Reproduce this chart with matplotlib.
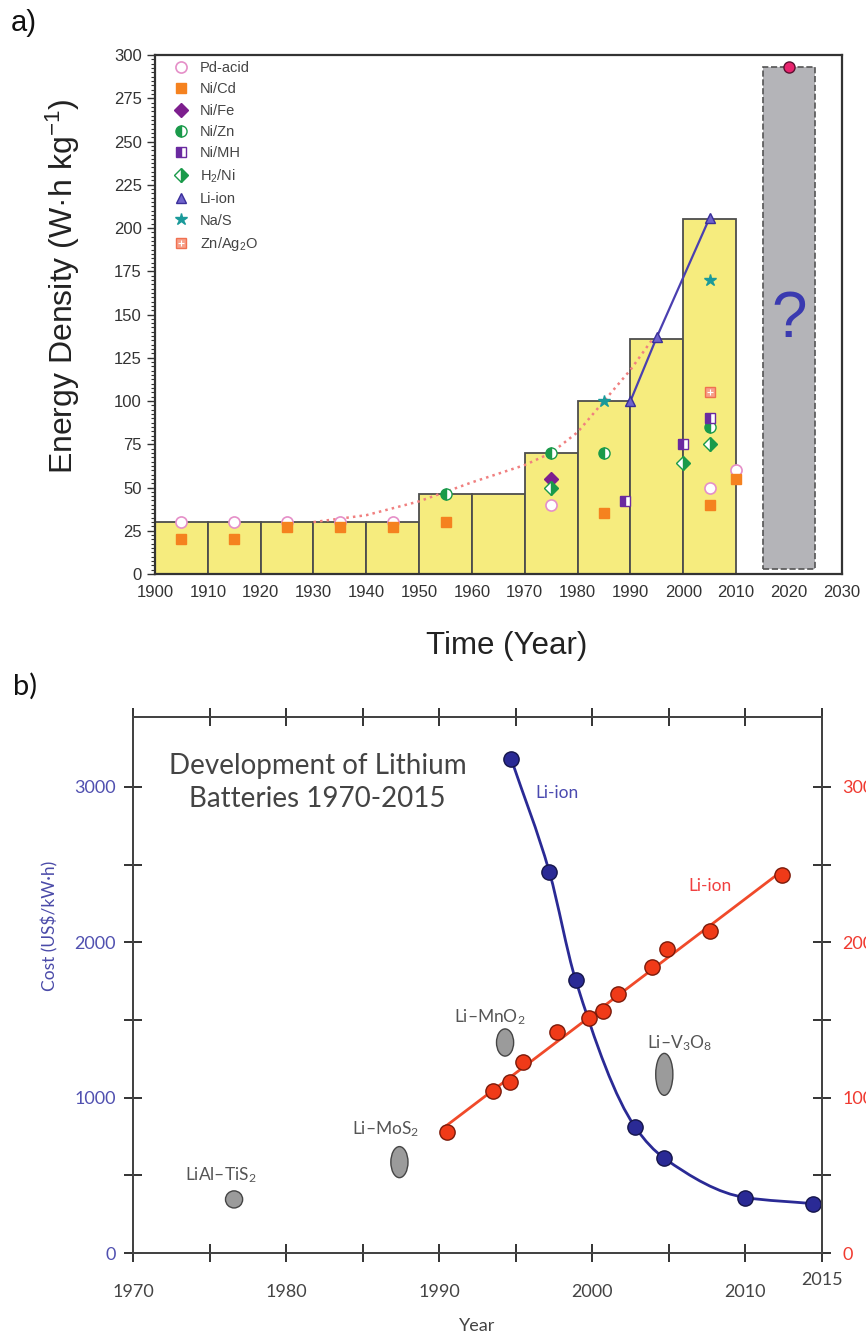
import numpy as np
import matplotlib
matplotlib.use("Agg")
import matplotlib.pyplot as plt
from matplotlib.lines import Line2D
from matplotlib.patches import Ellipse, PathPatch
from matplotlib.path import Path
from matplotlib.ticker import MultipleLocator
import matplotlib.transforms as mtransforms

plt.rcParams['font.family'] = ['Liberation Sans', 'DejaVu Sans']
plt.rcParams['mathtext.fontset'] = 'custom'
plt.rcParams['mathtext.rm'] = 'Liberation Sans'
plt.rcParams['mathtext.it'] = 'Liberation Sans:italic'

# ---------------- panel a data: energy density by decade ----------------
decade_start = [1900, 1910, 1920, 1930, 1940, 1950, 1960, 1970, 1980, 1990, 2000]
decade_best = [30, 30, 30, 30, 30, 46, 46, 70, 100, 136, 205]
future_year = 2015
future_low = 3
future_target = 293

trend_year = [1930, 1940, 1950, 1960, 1970, 1975, 1980, 1985, 1990, 1994]
trend_val = [30, 34, 42, 53, 63, 70, 82, 100, 118, 135]

pd_year = [1905, 1915, 1925, 1935, 1945, 1975, 2005, 2010]
pd_val = [30, 30, 30, 30, 30, 40, 50, 60]
nicd_year = [1905, 1915, 1925, 1935, 1945, 1955, 1985, 2005, 2010]
nicd_val = [20, 20, 27, 27, 27, 30, 35, 40, 55]
nife_year = [1975]
nife_val = [55]
nizn_year = [1955, 1975, 1985, 2005]
nizn_val = [46, 70, 70, 85]
nimh_year = [1989, 2000, 2005]
nimh_val = [42, 75, 90]
h2ni_year = [1975, 2000, 2005]
h2ni_val = [50, 64, 75]
liion_year = [1990, 1995, 2005]
liion_val = [100, 137, 206]
nas_year = [1985, 2005]
nas_val = [100, 170]
znag_year = [2005]
znag_val = [105]

# ---------------- panel b data: lithium batteries 1970-2015 ----------------
cost_year = [1994.7, 1997.2, 1998.9, 2002.8, 2004.7, 2010.0, 2014.4]
cost_val = [3180, 2450, 1760, 810, 610, 357, 318]
dens_year = [1990.5, 1993.5, 1994.6, 1995.5, 1997.7, 1999.8, 2000.7, 2001.7,
             2003.9, 2004.9, 2007.7, 2012.4]
dens_val = [78, 104, 110, 123, 142, 151, 156, 167, 184, 196, 207, 243]
early_names = ['LiAl\u2013TiS$\\mathregular{_2}$', 'Li\u2013MoS$\\mathregular{_2}$',
               'Li\u2013MnO$\\mathregular{_2}$', 'Li\u2013V$\\mathregular{_3}$O$\\mathregular{_8}$']
early_year = [1976.6, 1987.4, 1994.3, 2004.7]
early_cost = [345, 585, 1355, 1150]
early_spread = [110, 200, 175, 270]


def pchip_path(xs, ys):
    """Shape-preserving cubic through the points, as a Bezier path."""
    x = np.asarray(xs, float)
    y = np.asarray(ys, float)
    h = np.diff(x)
    d = np.diff(y) / h
    m = np.zeros_like(y)
    for k in range(1, len(x) - 1):
        if d[k - 1] * d[k] > 0:
            w1 = 2 * h[k] + h[k - 1]
            w2 = h[k] + 2 * h[k - 1]
            m[k] = (w1 + w2) / (w1 / d[k - 1] + w2 / d[k])
    m[0] = d[0]
    m[-1] = d[-1]
    verts = [(x[0], y[0])]
    codes = [Path.MOVETO]
    for k in range(len(x) - 1):
        verts += [(x[k] + h[k] / 3, y[k] + m[k] * h[k] / 3),
                  (x[k + 1] - h[k] / 3, y[k + 1] - m[k + 1] * h[k] / 3),
                  (x[k + 1], y[k + 1])]
        codes += [Path.CURVE4] * 3
    return Path(verts, codes)


fig = plt.figure(figsize=(8.66, 13.33), dpi=100)

# ======================= panel a =======================
ax1 = fig.add_axes([0.179, 0.5694, 0.793, 0.3893])
ax1.bar(decade_start, decade_best, width=10, align='edge', color='#f6ec7e',
        edgecolor='#4d4d4d', linewidth=1.3, zorder=1)
ax1.bar(future_year, future_target - future_low, bottom=future_low, width=10,
        align='edge', color='#b4b4b8', edgecolor='#555555', linestyle='--',
        linewidth=1.2, zorder=1)
ax1.plot([future_year + 5], [future_target], 'o', ms=8, mfc='#e8246e',
         mec='#5a1030', mew=1, zorder=5)
ax1.text(future_year + 5, 147, '?', fontsize=46, color='#3a3ab0',
         ha='center', va='center', zorder=4)

ax1.plot(trend_year, trend_val, ':', color='#f08080', lw=1.8, zorder=2)

h_pd, = ax1.plot(pd_year, pd_val, 'o', ms=8, mfc='white', mec='#e58fc8', mew=1.2, zorder=3)
h_nicd, = ax1.plot(nicd_year, nicd_val, 's', ms=6.5, color='#f5821f', zorder=3)
h_nife, = ax1.plot(nife_year, nife_val, 'D', ms=7, color='#7d1f8e', zorder=3)
h_nizn, = ax1.plot(nizn_year, nizn_val, 'o', ms=8, color='#1a9a4a', fillstyle='left',
                   markerfacecoloralt='white', zorder=3)
h_nimh, = ax1.plot(nimh_year, nimh_val, 's', ms=6.5, color='#6a2aa0', fillstyle='left',
                   markerfacecoloralt='white', zorder=3)
h_h2ni, = ax1.plot(h2ni_year, h2ni_val, 'D', ms=7, color='#1a9a4a', fillstyle='right',
                   markerfacecoloralt='white', zorder=3)
ax1.plot(liion_year, liion_val, '-^', ms=7, lw=1.6, color='#4a3fb0',
         mfc='#6f63cc', mec='#3a2f9a', zorder=3)
h_li = Line2D([], [], ls='none', marker='^', ms=7, mfc='#6f63cc', mec='#3a2f9a')
h_nas, = ax1.plot(nas_year, nas_val, '*', ms=9, color='#1a9a9a', zorder=3)
h_zn1, = ax1.plot(znag_year, znag_val, 's', ms=7, mfc='#f7a08a', mec='#f07050', zorder=3)
h_zn2, = ax1.plot(znag_year, znag_val, '+', ms=5, mew=0.8, color='white', zorder=3)

ax1.legend([h_pd, h_nicd, h_nife, h_nizn, h_nimh, h_h2ni, h_li, h_nas, (h_zn1, h_zn2)],
           ['Pd-acid', 'Ni/Cd', 'Ni/Fe', 'Ni/Zn', 'Ni/MH', 'H$_2$/Ni', 'Li-ion',
            'Na/S', 'Zn/Ag$_2$O'],
           loc='upper left', bbox_to_anchor=(0.01, 1.008), frameon=False,
           fontsize=10.5, labelspacing=0.5, handlelength=1.2, handletextpad=0.7,
           borderaxespad=0.3, labelcolor='#444444')

ax1.set_xlim(1900, 2030)
ax1.set_ylim(0, 300)
ax1.set_xticks(range(1900, 2031, 10))
ax1.set_yticks(range(0, 301, 25))
ax1.yaxis.set_minor_locator(MultipleLocator(2.5))
ax1.tick_params(axis='x', length=0, pad=8, labelsize=12, labelcolor='#333333')
ax1.tick_params(axis='y', which='major', length=6, width=1, labelsize=12,
                labelcolor='#333333', color='#333333')
ax1.tick_params(axis='y', which='minor', length=3, width=0.8, color='#333333')
for s in ax1.spines.values():
    s.set_linewidth(1.6)
    s.set_color('#333333')
ax1.set_xlabel('Time (Year)', fontsize=22.5, color='#222222')
ax1.xaxis.set_label_coords(0.512, -0.11)
ax1.set_ylabel('Energy Density (W\u00b7h kg$^{-1}$)', fontsize=23, color='#222222')
ax1.yaxis.set_label_coords(-0.106, 0.555)

# ======================= panel b =======================
ax2 = fig.add_axes([0.1536, 0.0600, 0.7956, 0.4021])
ax3 = ax2.twinx()
bfont = ['Lato', 'DejaVu Sans']

# early chemistries as grey ellipses
for yr, c, sp in zip(early_year, early_cost, early_spread):
    ax2.add_patch(Ellipse((yr, c), 1.12, sp, facecolor='#9b9b9b', edgecolor='#454545',
                          lw=1.0, zorder=2))
ax2.text(early_year[0] - 0.9, early_cost[0] + 95, early_names[0], family=bfont,
         fontsize=12.5, color='#555555', ha='center', va='bottom')
ax2.text(early_year[1] - 0.9, early_cost[1] + 150, early_names[1], family=bfont,
         fontsize=12.5, color='#555555', ha='center', va='bottom')
ax2.text(early_year[2] - 1.0, early_cost[2] + 100, early_names[2], family=bfont,
         fontsize=12.5, color='#555555', ha='center', va='bottom')
ax2.text(early_year[3] + 1.0, early_cost[3] + 135, early_names[3], family=bfont,
         fontsize=12.5, color='#555555', ha='center', va='bottom')

# smooth cost curve through the measured points
ax2.add_patch(PathPatch(pchip_path(cost_year, cost_val), facecolor='none',
                        edgecolor='#2a2a95', lw=2.0, zorder=3))
ax2.plot(cost_year, cost_val, 'o', ms=11, mfc='#2a2a95', mec='#15154a', mew=1.0,
         zorder=4)
ax2.text(1996.25, 2960, 'Li-ion', family=bfont, fontsize=12.5, color='#4a4ab0',
         ha='left', va='center')

# energy density, right axis
slope, icpt = np.polyfit(dens_year, dens_val, 1)
ends = np.array([dens_year[0], dens_year[-1]])
ax3.plot(ends, slope * ends + icpt, '-', color='#f04a2a', lw=2.0, zorder=3)
ax3.plot(dens_year, dens_val, 'o', ms=11, mfc='#f03a18', mec='#7a1a0a', mew=1.0,
         zorder=4)
ax3.text(2006.3, 236, 'Li-ion', family=bfont, fontsize=12.5, color='#f04040',
         ha='left', va='center')

ax2.text(0.268, 0.933, 'Development of Lithium\nBatteries 1970-2015', family=bfont,
         fontsize=20, color='#444444', ha='center', va='top', linespacing=1.35,
         transform=ax2.transAxes)

ax2.set_xlim(1970, 2015)
ax2.set_ylim(0, 3450)
ax3.set_ylim(0, 345)
ax2.set_xticks(range(1970, 2016, 5))
ax2.set_xticklabels(['1970', '', '1980', '', '1990', '', '2000', '', '2010', ''],
                    family=bfont)
ax2.set_yticks(range(0, 3450, 500))
ax2.set_yticklabels(['0', '', '1000', '', '2000', '', '3000'], family=bfont)
ax3.set_yticks(range(0, 345, 50))
ax3.set_yticklabels(['0', '', '100', '', '200', '', '300'], family=bfont)

ax2.tick_params(axis='x', top=True, direction='inout', length=13, width=1.4,
                pad=16, labelsize=13, labelcolor='#444444', color='#333333')
ax2.tick_params(axis='y', direction='inout', length=13, width=1.4, pad=6,
                labelsize=13, labelcolor='#5050b0', color='#333333')
ax3.tick_params(axis='y', direction='inout', length=13, width=1.4, pad=8,
                labelsize=13, labelcolor='#f03a30', color='#333333')
for a in (ax2, ax3):
    for s in a.spines.values():
        s.set_linewidth(1.4)
        s.set_color('#444444')

trans = mtransforms.blended_transform_factory(ax2.transData, ax2.transAxes)
ax2.text(2015, -0.035, '2015', family=bfont, fontsize=13, color='#444444',
         ha='center', va='top', transform=trans)
ax2.set_xlabel('Year', family=bfont, fontsize=13, color='#444444', labelpad=13)
ax2.set_ylabel('Cost (US$/kW\u00b7h)', family=bfont, fontsize=12.5, color='#4a4aa8')
ax2.yaxis.set_label_coords(-0.108, 0.61)

fig.text(0.012, 0.983, 'a)', fontsize=21, ha='left', va='center', color='#111111')
fig.text(0.015, 0.485, 'b)', family=bfont, fontsize=21, ha='left', va='center',
         color='#111111')

fig.savefig('out.png', dpi=100)
